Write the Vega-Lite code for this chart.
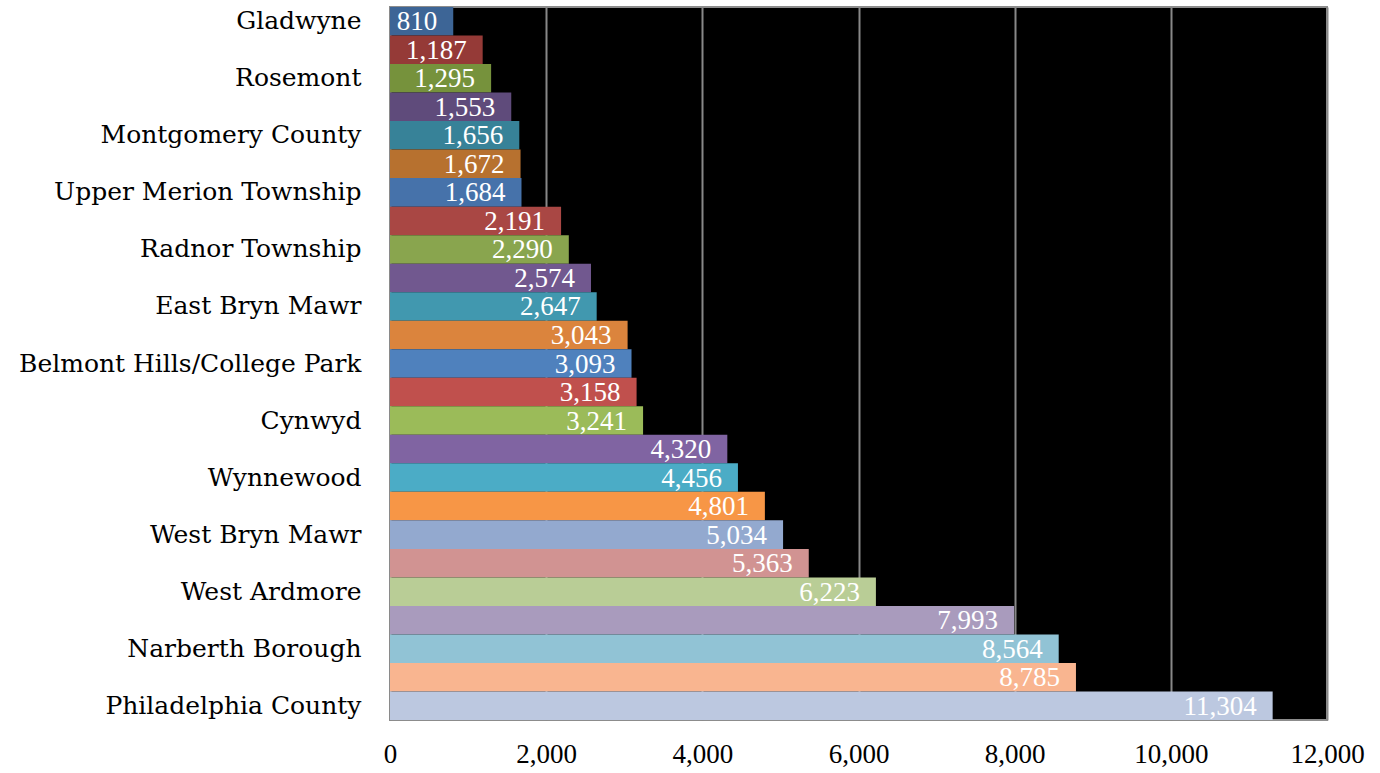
{
  "$schema": "https://vega.github.io/schema/vega-lite/v6.json",
  "autosize": "none",
  "width": 937,
  "height": 713,
  "padding": {"left": 390, "top": 7, "right": 53, "bottom": 53},
  "background": "white",
  "config": {
    "view": {"fill": "black", "stroke": "#8c8c8c", "strokeWidth": 2},
    "font": "Liberation Serif"
  },
  "data": {
    "values": [
      {"place": "Gladwyne", "value": 810},
      {"place": "Unlabeled 2", "value": 1187},
      {"place": "Rosemont", "value": 1295},
      {"place": "Unlabeled 4", "value": 1553},
      {"place": "Montgomery County", "value": 1656},
      {"place": "Unlabeled 6", "value": 1672},
      {"place": "Upper Merion Township", "value": 1684},
      {"place": "Unlabeled 8", "value": 2191},
      {"place": "Radnor Township", "value": 2290},
      {"place": "Unlabeled 10", "value": 2574},
      {"place": "East Bryn Mawr", "value": 2647},
      {"place": "Unlabeled 12", "value": 3043},
      {"place": "Belmont Hills/College Park", "value": 3093},
      {"place": "Unlabeled 14", "value": 3158},
      {"place": "Cynwyd", "value": 3241},
      {"place": "Unlabeled 16", "value": 4320},
      {"place": "Wynnewood", "value": 4456},
      {"place": "Unlabeled 18", "value": 4801},
      {"place": "West Bryn Mawr", "value": 5034},
      {"place": "Unlabeled 20", "value": 5363},
      {"place": "West Ardmore", "value": 6223},
      {"place": "Unlabeled 22", "value": 7993},
      {"place": "Narberth Borough", "value": 8564},
      {"place": "Unlabeled 24", "value": 8785},
      {"place": "Philadelphia County", "value": 11304}
    ]
  },
  "encoding": {
    "y": {
      "field": "place",
      "type": "nominal",
      "sort": {"field": "value", "order": "ascending"},
      "scale": {"paddingInner": 0, "paddingOuter": 0},
      "axis": {
        "title": null,
        "ticks": false,
        "domain": false,
        "labelFont": "DejaVu Serif",
        "labelFontSize": 25,
        "labelColor": "black",
        "labelPadding": 29,
        "labelLimit": 400,
        "labelExpr": "round(datum.index * 24) % 2 == 0 ? datum.label : ''"
      }
    },
    "x": {
      "field": "value",
      "type": "quantitative",
      "scale": {"domain": [0, 12000], "nice": false},
      "axis": {
        "title": null,
        "values": [0, 2000, 4000, 6000, 8000, 10000, 12000],
        "format": ",.0f",
        "ticks": false,
        "domain": false,
        "grid": true,
        "gridColor": "#888888",
        "gridWidth": 2,
        "labelFont": "Liberation Serif",
        "labelFontSize": 27,
        "labelColor": "black",
        "labelPadding": 21,
        "labelFlush": false
      }
    }
  },
  "layer": [
    {
      "mark": {"type": "bar"},
      "encoding": {
        "color": {
          "field": "place",
          "type": "nominal",
          "legend": null,
          "scale": {
            "domain": ["Gladwyne", "Unlabeled 2", "Rosemont", "Unlabeled 4", "Montgomery County", "Unlabeled 6", "Upper Merion Township", "Unlabeled 8", "Radnor Township", "Unlabeled 10", "East Bryn Mawr", "Unlabeled 12", "Belmont Hills/College Park", "Unlabeled 14", "Cynwyd", "Unlabeled 16", "Wynnewood", "Unlabeled 18", "West Bryn Mawr", "Unlabeled 20", "West Ardmore", "Unlabeled 22", "Narberth Borough", "Unlabeled 24", "Philadelphia County"],
            "range": ["#3d6596", "#953a37", "#76923c", "#5f4b7b", "#378298", "#b7712f", "#4672aa", "#a94744", "#89a54e", "#71588f", "#4198af", "#db843d", "#4f81bd", "#c0504d", "#9bbb59", "#8064a2", "#4bacc6", "#f79646", "#93a9cf", "#d19392", "#b9cd96", "#a99bbd", "#91c3d5", "#f9b590", "#bcc8e0"]
          }
        }
      }
    },
    {
      "mark": {"type": "text", "align": "right", "baseline": "middle", "dx": -16, "dy": 1, "color": "white", "font": "Liberation Serif", "fontSize": 27},
      "encoding": {
        "text": {"field": "value", "type": "quantitative", "format": ",.0f"}
      }
    }
  ]
}
